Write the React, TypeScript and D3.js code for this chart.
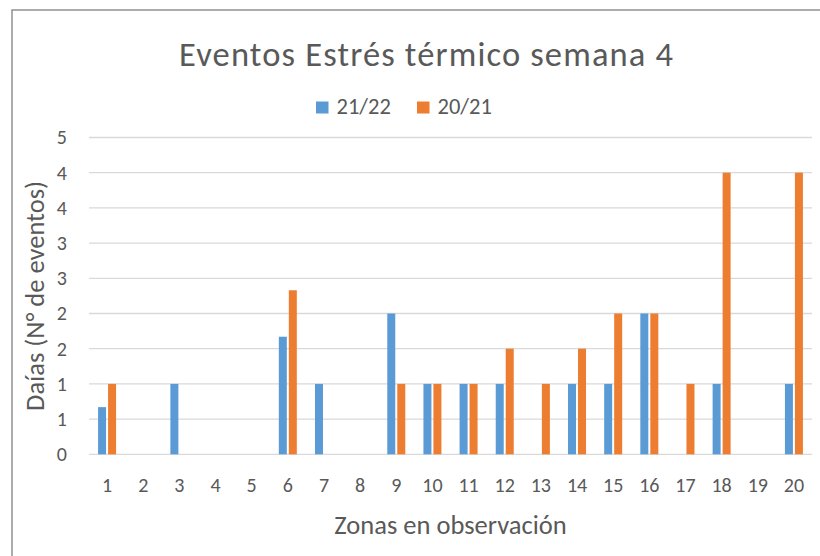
import React, { useEffect, useRef } from "react";
import * as d3 from "d3";

const zonas = ["1", "2", "3", "4", "5", "6", "7", "8", "9", "10", "11", "12", "13", "14", "15", "16", "17", "18", "19", "20"];
const series = ["21/22", "20/21"];
const valores2122 = [0.67, 0, 1, 0, 0, 1.67, 1, 0, 2, 1, 1, 1, 0, 1, 1, 2, 0, 1, 0, 1];
const valores2021 = [1, 0, 0, 0, 0, 2.33, 0, 0, 1, 1, 1, 1.5, 1, 1.5, 2, 2, 1, 4, 0, 4];
const yTicks = [0, 0.5, 1, 1.5, 2, 2.5, 3, 3.5, 4, 4.5];
const yTickLabels = ["0", "1", "1", "2", "2", "3", "3", "4", "4", "5"];
const colors = ["#5B9BD5", "#ED7D31"];

const FONT = "Calibri, Carlito, Lato, sans-serif";
const TEXT = "#595959";

const App = () => {
  const ref = useRef<SVGSVGElement>(null);

  useEffect(() => {
    const width = 820;
    const height = 556;
    const margin = { top: 137.5, right: 8, bottom: 101.7, left: 89 };

    const svg = d3.select(ref.current);
    svg.selectAll("*").remove();
    svg.attr("width", width).attr("height", height);

    svg
      .append("rect")
      .attr("x", 12)
      .attr("y", 10)
      .attr("width", width)
      .attr("height", height)
      .attr("fill", "#fff")
      .attr("stroke", "#8a8a8a")
      .attr("stroke-width", 1.4);

    const x = d3
      .scaleBand()
      .domain(zonas)
      .range([margin.left, width - margin.right])
      .padding(0);

    // two bars of 8px with a 2px gap, centred in each zone
    const xs = d3
      .scaleBand()
      .domain(series)
      .range([x.bandwidth() / 2 - 9, x.bandwidth() / 2 + 9])
      .paddingInner(0.2);

    const y = d3
      .scaleLinear()
      .domain([0, 4.5])
      .range([height - margin.bottom, margin.top]);

    // gridlines
    svg
      .append("g")
      .selectAll("line")
      .data(yTicks)
      .join("line")
      .attr("x1", margin.left)
      .attr("x2", width - margin.right)
      .attr("y1", (d) => y(d))
      .attr("y2", (d) => y(d))
      .attr("stroke", "#d9d9d9")
      .attr("stroke-width", 1.3);

    // y axis labels
    const yAxis = svg
      .append("g")
      .attr("transform", "translate(67,0)")
      .call(
        d3
          .axisLeft(y)
          .tickValues(yTicks)
          .tickSize(0)
          .tickPadding(0)
          .tickFormat((d, i) => yTickLabels[i])
      );
    yAxis.select(".domain").remove();
    yAxis
      .selectAll("text")
      .attr("font-family", FONT)
      .attr("font-size", 20)
      .attr("fill", TEXT);

    // x axis labels
    const xAxis = svg
      .append("g")
      .attr("transform", "translate(0," + y(0) + ")")
      .call(d3.axisBottom(x).tickSize(0).tickPadding(24));
    xAxis.select(".domain").remove();
    xAxis
      .selectAll("text")
      .attr("font-family", FONT)
      .attr("font-size", 20)
      .attr("fill", TEXT);

    // bars
    const data = [valores2122, valores2021];
    data.forEach((vals, s) => {
      svg
        .append("g")
        .attr("fill", colors[s])
        .selectAll("rect")
        .data(vals)
        .join("rect")
        .attr("x", (d, i) => (x(zonas[i]) as number) + (xs(series[s]) as number))
        .attr("y", (d) => y(d))
        .attr("width", xs.bandwidth())
        .attr("height", (d) => y(0) - y(d));
    });

    // title
    svg
      .append("text")
      .attr("x", 426)
      .attr("y", 66)
      .attr("text-anchor", "middle")
      .attr("font-family", FONT)
      .attr("font-size", 34.5)
      .attr("textLength", 494)
      .attr("lengthAdjust", "spacing")
      .attr("fill", TEXT)
      .text("Eventos Estrés térmico semana 4");

    // legend
    const legend = svg
      .append("g")
      .selectAll("g")
      .data(series)
      .join("g")
      .attr("transform", (d, i) => "translate(" + (316 + i * 101) + ",0)");
    legend
      .append("rect")
      .attr("y", 101.5)
      .attr("width", 12.5)
      .attr("height", 12)
      .attr("fill", (d, i) => colors[i]);
    legend
      .append("text")
      .attr("x", 20.5)
      .attr("y", 114.3)
      .attr("font-family", FONT)
      .attr("font-size", 22.5)
      .attr("fill", TEXT)
      .text((d) => d);

    // axis titles
    svg
      .append("text")
      .attr("x", (margin.left + width - margin.right) / 2)
      .attr("y", 534)
      .attr("text-anchor", "middle")
      .attr("font-family", FONT)
      .attr("font-size", 26.5)
      .attr("fill", TEXT)
      .text("Zonas en observación");

    svg
      .append("text")
      .attr("transform", "translate(43.5," + (margin.top + y(0)) / 2 + ") rotate(-90)")
      .attr("text-anchor", "middle")
      .attr("font-family", FONT)
      .attr("font-size", 26.5)
      .attr("fill", TEXT)
      .text("Daías (N° de eventos)");
  }, []);

  return (
    <div style={{ position: "absolute", left: 0, top: 0 }}>
      <svg ref={ref}></svg>
    </div>
  );
};

export default App;
